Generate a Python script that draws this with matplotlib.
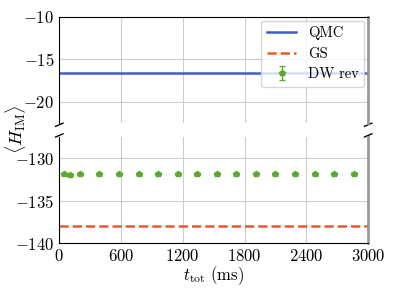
import numpy as np
import matplotlib
matplotlib.use('Agg')
import matplotlib.pyplot as plt

plt.rcParams['font.family'] = 'serif'
plt.rcParams['font.serif'] = ['cmr10']
plt.rcParams['mathtext.fontset'] = 'cm'
plt.rcParams['axes.formatter.use_mathtext'] = True
plt.rcParams['font.size'] = 12

# data
t_tot = [50, 100, 200, 390, 580, 770, 960, 1150, 1340, 1530, 1720, 1910,
         2100, 2290, 2480, 2670, 2860]
dw_rev = [-131.9, -132.0, -131.9, -131.9, -131.9, -131.9, -131.9, -131.9,
          -131.9, -131.9, -131.9, -131.8, -131.9, -131.9, -131.9, -131.9, -131.85]
dw_err = [0.1] * len(t_tot)
qmc = -16.55
gs = -138.0

c_qmc = '#3a5fcd'
c_gs = '#e65a2e'
c_dw = '#5aab2c'

fig, (ax1, ax2) = plt.subplots(2, 1, sharex=True, figsize=(3.95, 2.96), dpi=100)
fig.subplots_adjust(left=0.15, right=0.932, top=0.943, bottom=0.178, hspace=0.13)

for ax in (ax1, ax2):
    ax.axhline(qmc, color=c_qmc, lw=1.8, label='QMC')
    ax.axhline(gs, color=c_gs, lw=1.8, ls='--', label='GS')
    ax.errorbar(t_tot, dw_rev, yerr=dw_err, fmt='p', color=c_dw, ms=4,
                capsize=2, elinewidth=1, label='DW rev')
    ax.grid(True, color='#cccccc', lw=0.8)
    ax.set_axisbelow(True)
    ax.spines['right'].set_color('#999999')
    ax.spines['right'].set_linewidth(2)

ax1.set_ylim(-22.5, -10)
ax2.set_ylim(-140, -127.5)
ax1.set_yticks([-20, -15, -10])
ax2.set_yticks([-140, -135, -130])
ax2.set_xlim(0, 3000)
ax2.set_xticks([0, 600, 1200, 1800, 2400, 3000])

ax1.spines['bottom'].set_visible(False)
ax2.spines['top'].set_visible(False)
ax1.tick_params(bottom=False, labelbottom=False)
ax1.tick_params(axis='y', length=0)
ax2.tick_params(length=0)

# break marks
d = 0.012
kw = dict(color='k', clip_on=False, lw=1)
ax1.plot((-d, d), (-0.03, 0.0), transform=ax1.transAxes, **kw)
ax1.plot((1 - d, 1 + d), (-0.03, 0.0), transform=ax1.transAxes, **kw)
ax2.plot((-d, d), (1.0, 1.03), transform=ax2.transAxes, **kw)
ax2.plot((1 - d, 1 + d), (1.0, 1.03), transform=ax2.transAxes, **kw)

ax1.legend(loc='upper right', fontsize=10.5, framealpha=0.8, handlelength=2.0,
           borderaxespad=0.25, labelspacing=0.45)

ax2.set_xlabel(r'$t_{\rm tot}$ (ms)', labelpad=0)
fig.text(0.04, 0.565, r'$\langle H_{\rm IM}\rangle$', rotation=90,
         va='center', ha='center', fontsize=13)

plt.savefig('out.png', dpi=100)
